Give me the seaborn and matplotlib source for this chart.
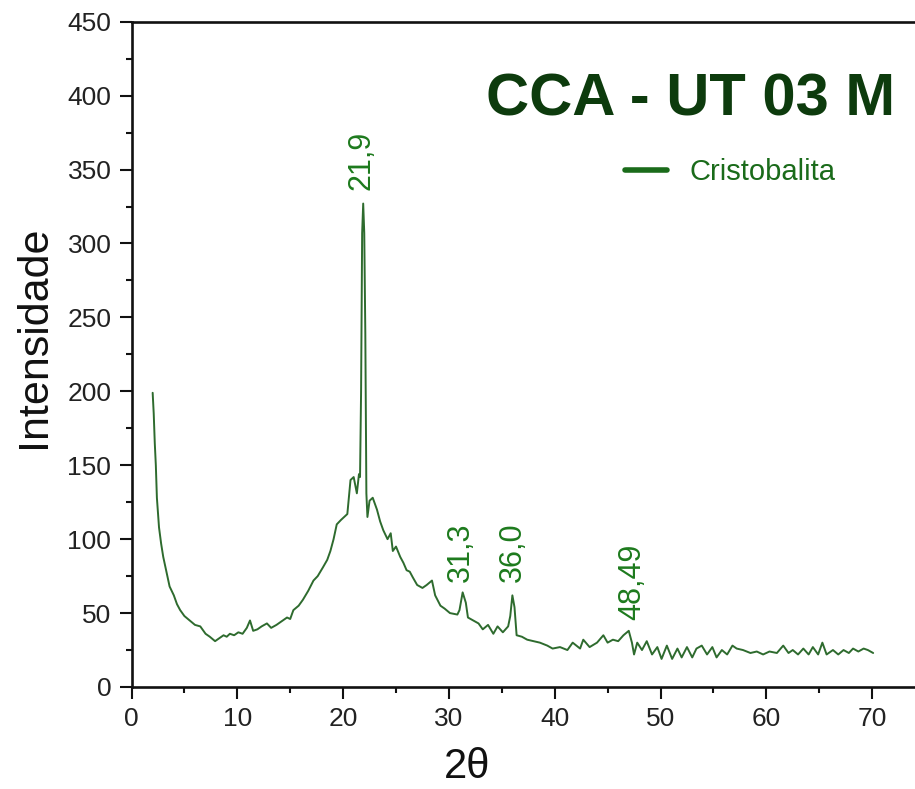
import matplotlib
matplotlib.use("Agg")
import matplotlib.pyplot as plt
import seaborn as sns
import pandas as pd

# XRD pattern of the sample (2-theta in degrees, intensity in counts)
two_theta = [
    2.0, 2.1, 2.2, 2.3, 2.4, 2.6, 2.8, 3.0, 3.3, 3.6, 4.0, 4.3, 4.6, 5.0, 5.5,
    6.0, 6.5, 7.0, 7.4, 7.9, 8.3, 8.7, 9.0, 9.3, 9.7, 10.1, 10.5, 10.9, 11.2,
    11.5, 11.9, 12.3, 12.8, 13.2, 13.7, 14.1, 14.7, 15.0, 15.3, 15.8, 16.2,
    16.7, 17.2, 17.6, 18.1, 18.5, 18.8, 19.1, 19.4, 19.8, 20.1, 20.4, 20.7,
    21.0, 21.3, 21.5, 21.6, 21.7, 21.8, 21.9, 22.0, 22.1, 22.2, 22.3, 22.5,
    22.8, 23.2, 23.5, 23.8, 24.2, 24.5, 24.7, 25.0, 25.4, 25.7, 26.0, 26.3,
    26.6, 27.0, 27.5, 27.9, 28.4, 28.7, 29.2, 29.6, 30.1, 30.8, 31.0, 31.3,
    31.6, 31.8, 32.3, 32.8, 33.2, 33.7, 34.2, 34.6, 35.1, 35.6, 35.8, 36.0,
    36.2, 36.4, 36.9, 37.4, 38.0, 38.6, 39.3, 39.8, 40.5, 41.2, 41.7, 42.4,
    42.7, 43.3, 44.0, 44.6, 45.0, 45.5, 46.0, 46.5, 47.0, 47.3, 47.5, 47.8,
    48.25, 48.7, 49.2, 49.7, 50.1, 50.6, 51.1, 51.6, 52.0, 52.5, 53.0, 53.4,
    53.9, 54.4, 54.9, 55.3, 55.8, 56.3, 56.8, 57.2, 57.8, 58.5, 59.1, 59.7,
    60.3, 61.0, 61.6, 62.1, 62.5, 63.0, 63.5, 64.0, 64.4, 64.9, 65.3, 65.7,
    66.3, 66.8, 67.3, 67.8, 68.2, 68.7, 69.2, 69.6, 70.1,
]
intensity = [
    199, 185, 165, 150, 128, 108, 97, 88, 78, 68, 62, 56, 52, 48, 45,
    42, 41, 36, 34, 31, 33, 35, 34, 36, 35, 37, 36, 40, 45,
    38, 39, 41, 43, 40, 42, 44, 47, 46, 52, 55, 59,
    65, 72, 75, 81, 86, 92, 100, 110, 113, 115, 117, 140,
    142, 131, 144, 142, 200, 307, 327, 307, 239, 131, 115, 126,
    128, 120, 112, 106, 100, 104, 92, 95, 88, 84, 79, 78,
    74, 69, 67, 69, 72, 62, 55, 53, 50, 49, 52, 64,
    57, 47, 45, 43, 39, 42, 36, 41, 37, 41, 48, 62,
    54, 35, 34, 32, 31, 30, 28, 26, 27, 25, 30, 26,
    32, 27, 30, 35, 30, 32, 31, 35, 38, 30, 22, 30,
    25, 31, 22, 27, 19, 28, 19, 26, 20, 27, 20, 26,
    28, 22, 27, 20, 25, 22, 28, 26, 25, 23, 24, 22,
    24, 23, 28, 23, 25, 22, 26, 22, 27, 22, 30, 22,
    25, 22, 25, 23, 26, 24, 26, 25, 23,
]

# Peak labels (text, x position, y position of the label start)
peak_labels = ["21,9", "31,3", "36,0", "48,49"]
peak_label_x = [21.7, 31.15, 36.05, 47.3]
peak_label_y = [336, 71, 71, 45]

x_ticks = [0, 10, 20, 30, 40, 50, 60, 70]
y_ticks = [0, 50, 100, 150, 200, 250, 300, 350, 400, 450]

df = pd.DataFrame({"2theta": two_theta, "Cristobalita": intensity})

sns.set_style("ticks")
plt.rcParams["font.family"] = ["Liberation Sans", "DejaVu Sans"]

W, H = 915, 789
fig = plt.figure(figsize=(W / 100, H / 100), dpi=100)
x0, x1 = 131.5, 925.0
y0, y1 = 21.7, 687.0
ax = fig.add_axes([x0 / W, 1 - y1 / H, (x1 - x0) / W, (y1 - y0) / H])

line_color = "#2e6b2e"
sns.lineplot(data=df, x="2theta", y="Cristobalita", ax=ax, color=line_color,
             linewidth=1.4, label="Cristobalita", sort=False)

ax.set_xlim(0, 75)
ax.set_ylim(0, 450)
ax.set_xticks(x_ticks)
ax.set_yticks(y_ticks)
ax.set_xticks([5, 15, 25, 35, 45, 55, 65], minor=True)
ax.set_yticks([25, 75, 125, 175, 225, 275, 325, 375, 425], minor=True)
ax.set_xlabel("")
ax.set_ylabel("")

for side in ["left", "bottom", "top", "right"]:
    ax.spines[side].set_visible(True)
    ax.spines[side].set_linewidth(1.9)
    ax.spines[side].set_color("#111111")

ax.tick_params(axis="both", which="major", direction="out", length=8.5,
               width=1.5, labelsize=19, colors="#111111", pad=6,
               labelcolor="#222222")
ax.tick_params(axis="both", which="minor", direction="out", length=4.5,
               width=1.5, colors="#111111")
ax.tick_params(axis="x", top=False, which="both")
ax.tick_params(axis="y", right=False, which="both")

# Peak position labels
label_color = "#1d7a1d"
for txt, px, py in zip(peak_labels, peak_label_x, peak_label_y):
    ax.text(px, py, txt, rotation=90, rotation_mode="anchor", ha="left",
            va="center", fontsize=22, color=label_color)

# Legend
leg = ax.legend(loc="center left", bbox_to_anchor=(625 / W, 1 - 172 / H),
                bbox_transform=fig.transFigure, frameon=False, fontsize=21,
                handlelength=1.45, handletextpad=0.75, borderpad=0,
                borderaxespad=0, labelcolor="#1a6b1a")
for h in leg.get_lines():
    h.set_linewidth(4)
    h.set_color("#1a6b1a")

# Sample title
fig.text(895 / W, 1 - 115 / H, "CCA - UT 03 M", ha="right", va="baseline",
         fontsize=43, fontweight="bold", color="#0d3b0d")

# Axis titles
fig.text(45 / W, 1 - 337 / H, "Intensidade", rotation=90,
         rotation_mode="anchor", ha="center", va="baseline", fontsize=31,
         color="#111111")
fig.text(467 / W, 1 - 778 / H, "2\u03b8", ha="center", va="baseline",
         fontsize=30, color="#111111")

fig.savefig("out.png", dpi=100)
